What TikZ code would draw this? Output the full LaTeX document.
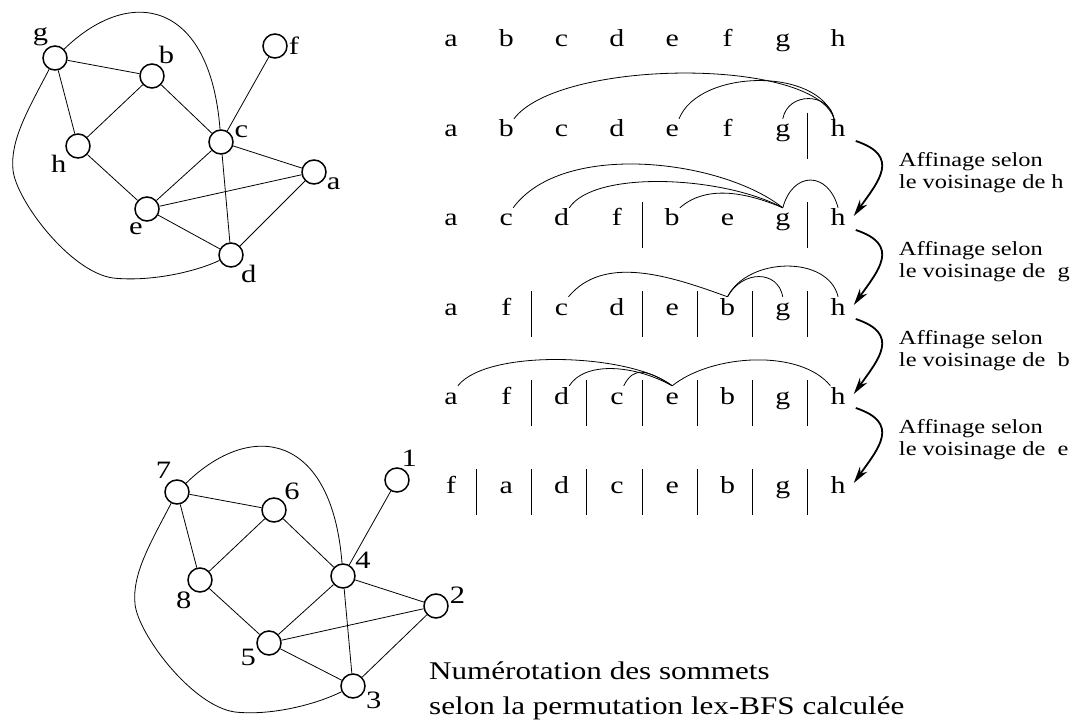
\documentclass[tikz,border=0pt]{standalone}
\usepackage{fontspec}
\setmainfont{Liberation Serif}
\usetikzlibrary{arrows.meta,calc}

% the text of the figure is set wide
\newcommand\wide[1]{\scalebox{1.22}[1]{#1}}
% one row of the lex-BFS permutation
\newcommand\letterrow[3]{%
  \foreach \l [count=\i] in {#3}
    \node[letter] (r#1\l) at ({451+55.3*(\i-1)},#2) {\wide{\l}};}
% separators between classes of a row
\newcommand\sepbars[2]{%
  \foreach \k in {#2}
    \draw[bar] ({476+55.3*(\k-1)},{#1-24}) -- ++(0,46);}

\begin{document}
\begin{tikzpicture}[x=1pt,y=-1pt,
   vertex/.style={circle,draw,line width=1.5pt,minimum size=24pt,inner sep=0pt},
   lbl/.style={inner sep=1pt,font=\fontsize{25}{30}\selectfont},
   edge/.style={line width=0.8pt},
   letter/.style={anchor=base,inner sep=0pt,text height=18pt,text depth=6pt,
                  font=\fontsize{24.5}{28}\selectfont},
   arc/.style={line width=0.8pt},
   bar/.style={line width=0.8pt},
   refine/.style={-{Stealth[length=17pt,width=9pt]},line width=1.8pt},
   note/.style={anchor=west,align=left,inner sep=0pt,
                font=\fontsize{20}{22}\selectfont},
   capt/.style={anchor=west,align=left,inner sep=0pt,
                font=\fontsize{25.5}{35}\selectfont}
  ]
  \useasboundingbox (0,0) rectangle (1074,722);

  % graph with letters
  \foreach \n/\x/\y/\ang in {a/314/172/-23,b/152/76/63,c/221/142/15,
      d/231/255/-45,e/147/209/256,f/275/46/0,g/55/58/117,h/78/146/216}
    \node[vertex,label={[lbl]\ang:\wide{\n}}] (t\n) at (\x,\y) {};
  \foreach \u/\v in {a/c,a/e,a/d,b/g,b/h,b/c,c/f,c/e,c/d,e/h,e/d,g/h}
    \draw[edge] (t\u) -- (t\v);
  \draw[edge] (tg) .. controls (130,-15) and (210,0) .. (tc);
  \draw[edge] (tg) .. controls (28,110) and (10,140) .. (13,170)
     .. controls (16,200) and (70,272) .. (113,278)
     .. controls (150,282) and (195,272) .. (td);

  % same graph, numbered
  \begin{scope}[shift={(122,434)}]
  \foreach \n/\x/\y/\ang in {2/314/172/5,6/152/76/44,4/221/142/28,
      3/231/252/-22,5/147/209/202,1/275/46/74,7/55/58/111,8/78/146/235}
    \node[vertex,label={[lbl]\ang:\wide{\n}}] (n\n) at (\x,\y) {};
  \foreach \u/\v in {2/4,2/5,2/3,6/7,6/8,6/4,4/1,4/5,4/3,5/8,5/3,7/8}
    \draw[edge] (n\u) -- (n\v);
  \draw[edge] (n7) .. controls (130,-15) and (210,0) .. (n4);
  \draw[edge] (n7) .. controls (28,110) and (10,140) .. (13,170)
     .. controls (16,200) and (70,272) .. (113,278)
     .. controls (150,282) and (195,270) .. (n3);
  \end{scope}

  % rows
  \letterrow{1}{47}{a,b,c,d,e,f,g,h}
  \letterrow{2}{137}{a,b,c,d,e,f,g,h}
  \letterrow{3}{226}{a,c,d,f,b,e,g,h}
  \letterrow{4}{315}{a,f,c,d,e,b,g,h}
  \letterrow{5}{404}{a,f,d,c,e,b,g,h}
  \letterrow{6}{493}{f,a,d,c,e,b,g,h}

  \sepbars{137}{7}
  \sepbars{226}{4,7}
  \sepbars{315}{2,4,5,6,7}
  \sepbars{404}{2,3,4,5,6,7}
  \sepbars{493}{1,2,3,4,5,6,7}

  % neighbours of h
  \draw[arc] (r2b.north east) .. controls +(45,-60) and +(-20,-62) .. ([xshift=-4pt]r2h.north);
  \draw[arc] (r2e.north east) .. controls +(20,-50) and +(-15,-52) .. ([xshift=-4pt]r2h.north);
  \draw[arc] (r2g.north) .. controls +(5,-27) and +(-5,-27) .. ([xshift=-4pt]r2h.north);
  % neighbours of g
  \draw[arc] (r3c.north east) .. controls +(50,-68) and +(-60,-48) .. (r3g.north);
  \draw[arc] (r3d.north east) .. controls +(25,-38) and +(-60,-32) .. (r3g.north);
  \draw[arc] (r3b.north east) .. controls +(25,-22) and +(-40,-17) .. (r3g.north);
  \draw[arc] (r3g.north) .. controls +(10,-37) and +(-10,-37) .. (r3h.north);
  % neighbours of b
  \draw[arc] (r4c.north east) .. controls +(35,-42) and +(-60,-22) .. (r4b.north);
  \draw[arc] (r4b.north) .. controls +(15,-27) and +(-5,-27) .. (r4g.north);
  \draw[arc] (r4b.north) .. controls +(20,-40) and +(-10,-42) .. (r4h.north);
  % neighbours of e
  \draw[arc] (r5a.north east) .. controls +(30,-38) and +(-40,-32) .. (r5e.north);
  \draw[arc] (r5d.north east) .. controls +(15,-24) and +(-40,-22) .. (r5e.north);
  \draw[arc] (r5c.north east) .. controls +(10,-20) and +(-25,-16) .. (r5e.north);
  \draw[arc] (r5e.north) .. controls +(40,-32) and +(-30,-37) .. (r5h.north west);

  % refinement steps
  \foreach \i/\j/\v/\gap in {2/3/h/0,3/4/g/5,4/5/b/5,5/6/e/5} {
    \draw[refine] ($(r\i h.east)+(10,10)$) .. controls +(45,15) and +(25,-35)
       .. ($(r\j h.east)+(8,-4)$);
    \node[note] (note\i) at ($(r\i h.east)!0.5!(r\j h.east)+(53,-3)$)
       {\wide{Affinage selon}\\\wide{le voisinage de\hspace{\gap pt} \v}};
  }

  \node[capt] (numtxt) at (429,691)
     {\wide{Numérotation des sommets}\\\wide{selon la permutation lex-BFS calculée}};
\end{tikzpicture}
\end{document}
